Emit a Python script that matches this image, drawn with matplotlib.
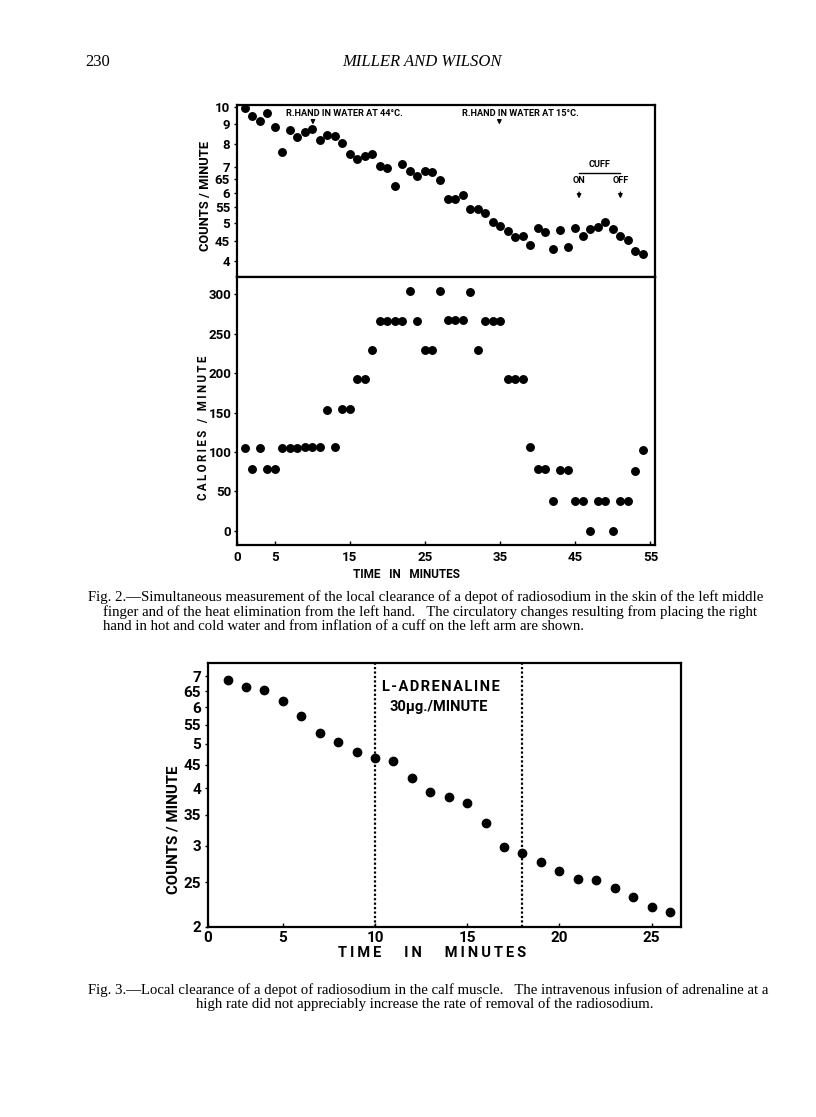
import numpy as np
import matplotlib
matplotlib.use('Agg')
from matplotlib import pyplot as plt
from matplotlib.transforms import blended_transform_factory as blend

# ---- data ----
minutes2 = list(range(1, 55))
counts2 = [9.9, 9.46, 9.18, 9.61, 8.84, 7.63, 8.70, 8.33, 8.62, 8.74,
           8.18, 8.43, 8.40, 8.04, 7.56, 7.34, 7.47, 7.54, 7.04, 6.95,
           6.24, 7.12, 6.81, 6.61, 6.84, 6.78, 6.47, 5.76, 5.77, 5.90,
           5.44, 5.43, 5.30, 5.04, 4.92, 4.76, 4.61, 4.64, 4.39, 4.86,
           4.75, 4.28, 4.80, 4.35, 4.85, 4.63, 4.84, 4.89, 5.05, 4.84,
           4.63, 4.53, 4.23, 4.17]
calories2 = [105, 78, 105, 78, 78, 105, 105, 105, 106, 106,
             106, 153, 106, 154, 155, 192, 192, 229, 266, 266,
             266, 266, 304, 266, 229, 229, 304, 267, 267, 267,
             303, 229, 266, 266, 266, 192, 192, 192, 106, 78,
             78, 38, 77, 77, 38, 38, 0, 38, 38, 0,
             38, 38, 76, 103]
count_ticks2 = [4, 4.5, 5, 5.5, 6, 6.5, 7, 8, 9, 10]
count_labels2 = ['4', '45', '5', '55', '6', '65', '7', '8', '9', '10']
cal_ticks2 = [0, 50, 100, 150, 200, 250, 300]
time_ticks2 = [0, 5, 15, 25, 35, 45, 55]
hot_min, cold_min = 10.1, 34.9
cuff_on, cuff_off = 45.5, 51.0

minutes3 = list(range(2, 27))
counts3 = [6.88, 6.65, 6.52, 6.19, 5.73, 5.26, 5.05, 4.79, 4.65, 4.59,
           4.22, 3.92, 3.83, 3.71, 3.37, 2.98, 2.90, 2.77, 2.65, 2.54,
           2.53, 2.43, 2.32, 2.21, 2.16]
count_ticks3 = [2, 2.5, 3, 3.5, 4, 4.5, 5, 5.5, 6, 6.5, 7]
count_labels3 = ['2', '25', '3', '35', '4', '45', '5', '55', '6', '65', '7']
time_ticks3 = [5, 10, 15, 20, 25]
adrenaline = [10, 18]

W, H = 816, 1117
sans = 'Roboto'
serif = 'Liberation Serif'


def box(x0, y0, x1, y1):
    # pixel box on the page -> figure fraction
    return [x0 / W, 1 - y1 / H, (x1 - x0) / W, (y1 - y0) / H]


def spaced(s, sep='\u2009'):
    return sep.join(s)


def bold_ticks(ax):
    for lab in ax.get_yticklabels() + ax.get_xticklabels():
        lab.set_family(sans)
        lab.set_weight('bold')


fig = plt.figure(figsize=(W / 100, H / 100), dpi=100)

# page header
fig.text(85 / W, 1 - 62 / H, '230', family=serif, fontsize=12, va='center')
fig.text(422 / W, 1 - 62 / H, 'MILLER AND WILSON', family=serif,
         style='italic', fontsize=12, ha='center', va='center')

# ---- Fig. 2, top panel ----
ax1 = fig.add_axes(box(237, 105, 655, 277))
ax1.plot(minutes2, counts2, 'o', color='black', ms=5.4)
ax1.set_yscale('log')
ax1.set_xlim(0, 55.6)
ax1.set_ylim(3.63, 10.1)
ax1.set_yticks(count_ticks2)
ax1.set_yticklabels(count_labels2)
ax1.minorticks_off()
ax1.set_xticks([])
ax1.tick_params(axis='y', direction='out', length=2, width=1, pad=3,
                labelsize=9.5)
bold_ticks(ax1)
tr = blend(ax1.transData, ax1.transAxes)
kw = dict(family=sans, weight='bold', fontsize=6.6, transform=tr)
ax1.text(hot_min - 3.6, 0.948, 'R.HAND IN WATER AT 44°C.', va='center', **kw)
ax1.text(cold_min - 5.0, 0.948, 'R.HAND IN WATER AT 15°C.', va='center', **kw)
arrow = dict(arrowstyle='-|>', color='black', lw=1, mutation_scale=6)
for m in [hot_min, cold_min]:
    ax1.annotate('', xy=(m, 0.87), xytext=(m, 0.925), xycoords=tr,
                 textcoords=tr, arrowprops=arrow)
ax1.text((cuff_on + cuff_off) / 2, 0.63, 'CUFF', ha='center', va='bottom',
         **kw)
ax1.plot([cuff_on, cuff_off], [0.605, 0.605], color='black', lw=1,
         transform=tr)
for m, t in [(cuff_on, 'ON'), (cuff_off, 'OFF')]:
    ax1.text(m, 0.56, t, ha='center', va='center', **kw)
    ax1.annotate('', xy=(m, 0.44), xytext=(m, 0.51), xycoords=tr,
                 textcoords=tr, arrowprops=arrow)
for s in ax1.spines.values():
    s.set_linewidth(1.6)

# ---- Fig. 2, bottom panel ----
ax2 = fig.add_axes(box(237, 277, 655, 545))
ax2.plot(minutes2, calories2, 'o', color='black', ms=5.4)
ax2.set_xlim(0, 55.6)
ax2.set_ylim(-18, 322)
ax2.set_yticks(cal_ticks2)
ax2.set_xticks(time_ticks2)
ax2.tick_params(axis='y', direction='out', length=2, width=1, pad=2,
                labelsize=9.5)
ax2.tick_params(axis='x', direction='in', length=3, width=1, pad=4,
                labelsize=9.5)
bold_ticks(ax2)
for s in ax2.spines.values():
    s.set_linewidth(1.6)

fig.text(205 / W, 1 - 196 / H, 'COUNTS / MINUTE',
         rotation=90, family=sans, weight='bold', fontsize=9.3,
         ha='center', va='center')
fig.text(204 / W, 1 - 428 / H, spaced('CALORIES / MINUTE'),
         rotation=90, family=sans, weight='bold', fontsize=8.3,
         ha='center', va='center')
fig.text(406 / W, 1 - 575 / H, 'TIME   IN   MINUTES', family=sans,
         weight='bold', fontsize=8.5, ha='center', va='center')

cap = dict(family=serif, fontsize=10.6, va='center')
fig.text(88 / W, 1 - 597 / H, 'Fig. 2.—Simultaneous measurement of the local '
         'clearance of a depot of radiosodium in the skin of the left middle',
         **cap)
fig.text(103 / W, 1 - 612 / H, 'finger and of the heat elimination from the '
         'left hand.   The circulatory changes resulting from placing the '
         'right', **cap)
fig.text(103 / W, 1 - 627 / H, 'hand in hot and cold water and from '
         'inflation of a cuff on the left arm are shown.', **cap)

# ---- Fig. 3 ----
ax3 = fig.add_axes(box(208, 663, 681, 927))
ax3.plot(minutes3, counts3, 'o', color='black', ms=6)
ax3.set_yscale('log')
ax3.set_xlim(0.94, 26.6)
ax3.set_ylim(2, 7.48)
ax3.set_yticks(count_ticks3)
ax3.set_yticklabels(count_labels3)
ax3.minorticks_off()
ax3.set_xticks([0.94] + time_ticks3)
ax3.set_xticklabels(['0'] + [str(t) for t in time_ticks3])
ax3.tick_params(axis='y', direction='out', length=2, width=1, pad=3,
                labelsize=11)
ax3.tick_params(axis='x', direction='in', length=3, width=1, pad=3,
                labelsize=11)
bold_ticks(ax3)
for m in adrenaline:
    ax3.axvline(m, color='black', lw=1.6, ls=(0, (1, 1)))
tr3 = blend(ax3.transData, ax3.transAxes)
ax3.text(adrenaline[0] + 0.4, 0.908, spaced('L-ADRENALINE', '\u200a'),
         family=sans, weight='bold', fontsize=10.5, transform=tr3,
         va='center')
ax3.text(adrenaline[0] + 0.8, 0.832, '30\u03bcg./MINUTE', family=sans,
         weight='bold', fontsize=10.5, transform=tr3, va='center')
for s in ax3.spines.values():
    s.set_linewidth(1.6)

fig.text(174 / W, 1 - 830 / H, 'COUNTS / MINUTE',
         rotation=90, family=sans, weight='bold', fontsize=10.8,
         ha='center', va='center')
fig.text(432 / W, 1 - 953 / H, spaced('TIME   IN   MINUTES'),
         family=sans, weight='bold', fontsize=10.5, ha='center', va='center')

fig.text(88 / W, 1 - 990 / H, 'Fig. 3.—Local clearance of a depot of '
         'radiosodium in the calf muscle.   The intravenous infusion of '
         'adrenaline at a', **cap)
fig.text(425 / W, 1 - 1004 / H, 'high rate did not appreciably increase the '
         'rate of removal of the radiosodium.', ha='center', **cap)

fig.savefig('out.png', dpi=100)
